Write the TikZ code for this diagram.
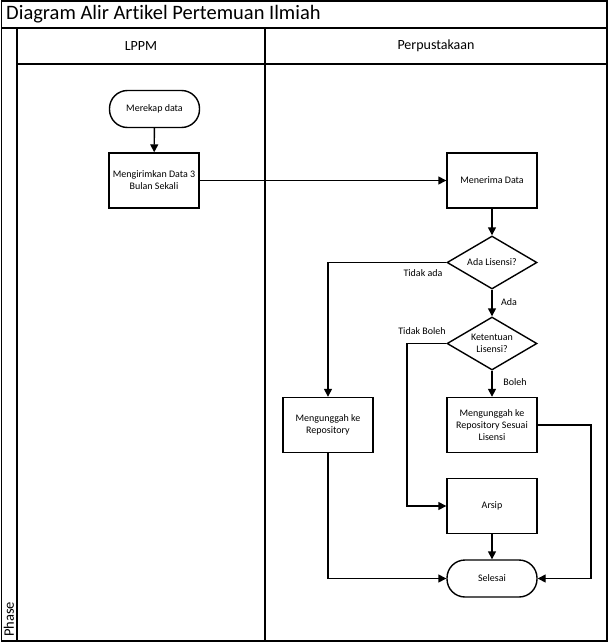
\documentclass[tikz,border=0pt]{standalone}
\usepackage{fontspec}
\setmainfont{Carlito}[Ligatures=NoCommon]
\usetikzlibrary{arrows.meta,shapes.geometric}
\begin{document}
\begin{tikzpicture}[x=1pt,y=-1pt,
  frame/.style={line width=1.6pt},
  proc/.style={draw,line width=1.4pt,minimum width=90pt,minimum height=55pt,inner sep=1pt,align=center,font=\fontsize{10}{12}\selectfont},
  term/.style={draw,line width=1.4pt,rounded corners=18pt,minimum width=90pt,minimum height=37pt,inner sep=1pt,align=center,font=\fontsize{10}{12}\selectfont},
  dec/.style={draw,line width=1.4pt,diamond,aspect=1.7,inner sep=0pt,minimum width=90pt,minimum height=53pt,align=center,font=\fontsize{10}{12}\selectfont},
  conn/.style={line width=1.4pt,-{Triangle[length=8pt,width=8pt]}},
  lbl/.style={font=\fontsize{10}{12}\selectfont,inner sep=0pt}]
\useasboundingbox (0,0) rectangle (613,642);
% frame
\draw[frame] (1.5,1) rectangle (607,641);
\draw[frame] (1.5,28) -- (607,28);
\draw[frame] (17,28) -- (17,641);
\draw[frame] (17,64) -- (607,64);
\draw[frame] (265,28) -- (265,641);
\node[anchor=west,inner sep=0pt,font=\fontsize{20.5}{24}\selectfont] (title) at (6,14) {Diagram Alir Artikel Pertemuan Ilmiah};
\node[font=\fontsize{14}{16}\selectfont,inner sep=0pt] (lppm) at (141,46) {LPPM};
\node[font=\fontsize{14}{16}\selectfont,inner sep=0pt] (perp) at (436,46) {Perpustakaan};
\node[font=\fontsize{14.5}{16}\selectfont,inner sep=0pt,rotate=90,anchor=west] (phase) at (9,637) {Phase};
% nodes
\node[term] (merekap) at (154.5,109) {Merekap data};
\node[proc] (kirim) at (154,180.5) {Mengirimkan Data 3\\Bulan Sekali};
\node[proc] (terima) at (492,180.5) {Menerima Data};
\node[dec] (ada) at (492,262.5) {Ada Lisensi?};
\node[dec] (ket) at (492,343.5) {Ketentuan\\Lisensi?};
\node[proc] (upl2) at (492,425) {Mengunggah ke\\Repository Sesuai\\Lisensi};
\node[proc] (upl1) at (328,425) {Mengunggah ke\\Repository};
\node[proc] (arsip) at (492,506) {Arsip};
\node[term] (selesai) at (492,578.5) {Selesai};
\coordinate (tb) at (407,343.5);
\coordinate (rr) at (591,425);
% connectors
\draw[conn] (merekap) -- (kirim);
\draw[conn] (kirim.east) -- (terima.west);
\draw[conn] (terima) -- (ada);
\draw[conn] (ada.west) -| (upl1.north);
\draw[conn] (ada) -- (ket);
\draw[conn] (ket.west) -- (tb) |- (arsip.west);
\draw[conn] (ket) -- (upl2);
\draw[conn] (upl2.east) -- (rr) |- (selesai.east);
\draw[conn] (arsip) -- (selesai);
\draw[conn] (upl1) |- (selesai.west);
% labels
\node[lbl] (ltidakada) at (423,273) {Tidak ada};
\node[lbl] (lada) at (509,302) {Ada};
\node[lbl] (ltidakboleh) at (422,331) {Tidak Boleh};
\node[lbl] (lboleh) at (515,382) {Boleh};
\end{tikzpicture}
\end{document}
